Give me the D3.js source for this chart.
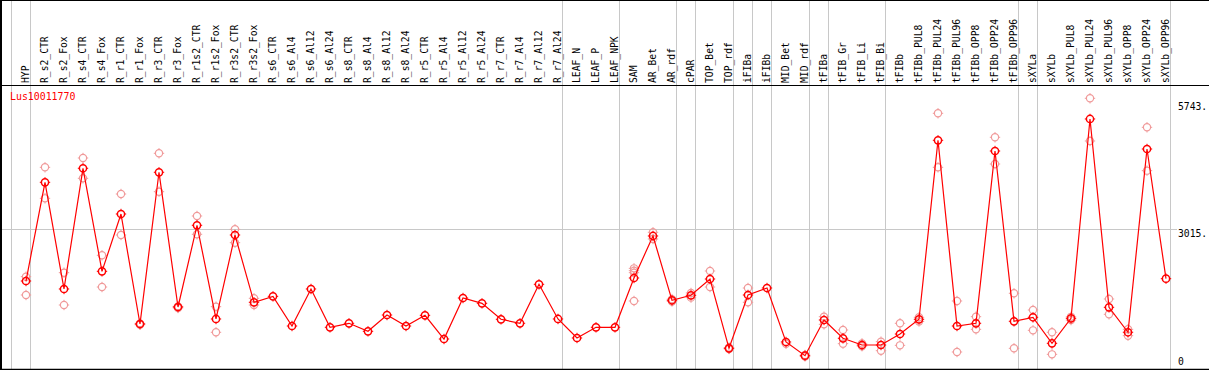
<!DOCTYPE html>
<html><head><meta charset="utf-8">
<script src="https://cdn.jsdelivr.net/npm/d3@7"></script>
<style>body{margin:0;background:#fff}svg{display:block}</style>
</head><body><svg id="c" width="1209" height="370"></svg>
<script>
const categories = ["HYP","R_s2_CTR","R_s2_Fox","R_s4_CTR","R_s4_Fox","R_r1_CTR","R_r1_Fox","R_r3_CTR","R_r3_Fox","R_r1s2_CTR","R_r1s2_Fox","R_r3s2_CTR","R_r3s2_Fox","R_s6_CTR","R_s6_Al4","R_s6_Al12","R_s6_Al24","R_s8_CTR","R_s8_Al4","R_s8_Al12","R_s8_Al24","R_r5_CTR","R_r5_Al4","R_r5_Al12","R_r5_Al24","R_r7_CTR","R_r7_Al4","R_r7_Al12","R_r7_Al24","LEAF_N","LEAF_P","LEAF_NPK","SAM","AR_Bet","AR_rdf","cPAR","TOP_Bet","TOP_rdf","iFIBa","iFIBb","MID_Bet","MID_rdf","tFIBa","tFIB_Gr","tFIB_Li","tFIB_Bi","tFIBb","tFIBb_PUL8","tFIBb_PUL24","tFIBb_PUL96","tFIBb_OPP8","tFIBb_OPP24","tFIBb_OPP96","sXYLa","sXYLb","sXYLb_PUL8","sXYLb_PUL24","sXYLb_PUL96","sXYLb_OPP8","sXYLb_OPP24","sXYLb_OPP96"];
const groupSizes = [1,28,3,3,1,2,1,1,2,1,3,7,1,7];
const means = [1889,4008,1718,4309,2097,3328,966,4223,1331,3085,1074,2877,1432,1560,923,1718,895,981,809,1159,923,1152,644,1524,1410,1067,981,1818,1074,666,895,895,1954,2856,1475,1582,1932,444,1589,1739,580,286,1052,659,515,515,751,1067,4910,923,981,4680,1024,1110,551,1088,5368,1324,788,4723,1939];
const replicates = [[1982,1589],[4330,3664],[2068,1374],[4530,4094],[2441,1760],[3757,2877],[980,950],[4631,3807],[1345,1310],[3285,2892],[1338,788],[2999,2712],[1518,1374],[],[],[],[],[],[],[],[],[],[],[],[],[],[],[],[],[],[],[],[2161,2111,2068,1460],[2935,2791],[1500,1450],[1632,1532],[2104,1760],[460,430],[1739,1432],[],[540],[300,270],[1123,959],[837,544],[550,490],[587,393],[981,508],[1110,1020],[5490,4330],[1460,365],[1123,852],[4975,4401],[1625,444],[1267,830],[788,315],[1120,1050],[5812,4895],[1503,1174],[852,715],[5189,4258],[]];
const yTicks = [0,3015,5743];
const yTickLabels = ["0","3015.","5743."];
const geneName = "Lus10011770";

const W = 1209, H = 370;
const svg = d3.select("#c");
const font = "'DejaVu Sans Mono', monospace";
const x = d3.scaleBand().domain(categories).range([11, 11 + 19*categories.length]).paddingInner(0).paddingOuter(0);
const px = c => x(c) + 15;
const y = d3.scaleLinear().domain([0, 5743]).range([369, 101.5]);

// group separators
const bounds = [0];
groupSizes.reduce((a, s) => { bounds.push(a + s); return a + s; }, 0);
const bx = i => (i < categories.length ? x(categories[i]) : x(categories[categories.length-1]) + x.bandwidth()) + 0.5;
svg.append("g").selectAll("line").data(bounds).join("line")
  .attr("x1", bx).attr("x2", bx)
  .attr("y1", 0).attr("y2", H).attr("stroke", "#c8c8c8").attr("stroke-width", 1);

// horizontal grid at middle tick
svg.append("line").attr("x1", 1).attr("x2", 1177).attr("y1", Math.round(y(3015)) + 0.5).attr("y2", Math.round(y(3015)) + 0.5)
  .attr("stroke", "#c8c8c8").attr("stroke-width", 1);

// borders
svg.append("line").attr("x1",0).attr("x2",W).attr("y1",0.5).attr("y2",0.5).attr("stroke","#000");
svg.append("line").attr("x1",0).attr("x2",W).attr("y1",85.5).attr("y2",85.5).attr("stroke","#000");
svg.append("line").attr("x1",0).attr("x2",W).attr("y1",369.5).attr("y2",369.5).attr("stroke","#000").attr("stroke-width",1.5);
svg.append("line").attr("x1",1).attr("x2",1).attr("y1",0).attr("y2",H).attr("stroke","#000").attr("stroke-width",2);

// header labels
svg.append("g").selectAll("text").data(categories).join("text")
  .attr("transform", c => `translate(${px(c) + 2.5},83) rotate(-90)`)
  .attr("font-family", font).attr("font-size", 9.7).attr("fill", "#000")
  .text(c => c);

// y labels
svg.append("g").selectAll("text").data(yTicks).join("text")
  .attr("x", 1178)
  .attr("y", (d, i) => i === 0 ? 365 : y(d) + 8)
  .attr("font-family", font).attr("font-size", 9.7).attr("fill", "#000")
  .text((d, i) => yTickLabels[i]);

// title
svg.append("text").attr("x", 10).attr("y", 100).attr("font-family", font).attr("font-size", 9.9)
  .attr("fill", "#ff0000").text(geneName);

function marker(g, cx, cy, color, sw) {
  const r = 3.6;
  g.append("circle").attr("cx", cx).attr("cy", cy).attr("r", r).attr("fill", "none").attr("stroke", color).attr("stroke-width", sw);
  [[0,-1],[0,1],[-1,0],[1,0]].forEach(([dx,dy]) => {
    g.append("line").attr("x1", cx + dx*r).attr("y1", cy + dy*r).attr("x2", cx + dx*(r+1.6)).attr("y2", cy + dy*(r+1.6))
      .attr("stroke", color).attr("stroke-width", 1);
  });
}

// replicate points
const pale = svg.append("g");
categories.forEach((c, i) => replicates[i].forEach(v => marker(pale, px(c), y(v), "#f09a9a", 1.2)));

// mean line
const line = d3.line().x((d, i) => px(categories[i])).y(d => y(d));
svg.append("path").datum(means).attr("d", line).attr("fill", "none").attr("stroke", "#ff0000").attr("stroke-width", 1.2);

// mean markers
const mg = svg.append("g");
means.forEach((v, i) => marker(mg, px(categories[i]), y(v), "#ff0000", 1.5));
</script></body></html>
